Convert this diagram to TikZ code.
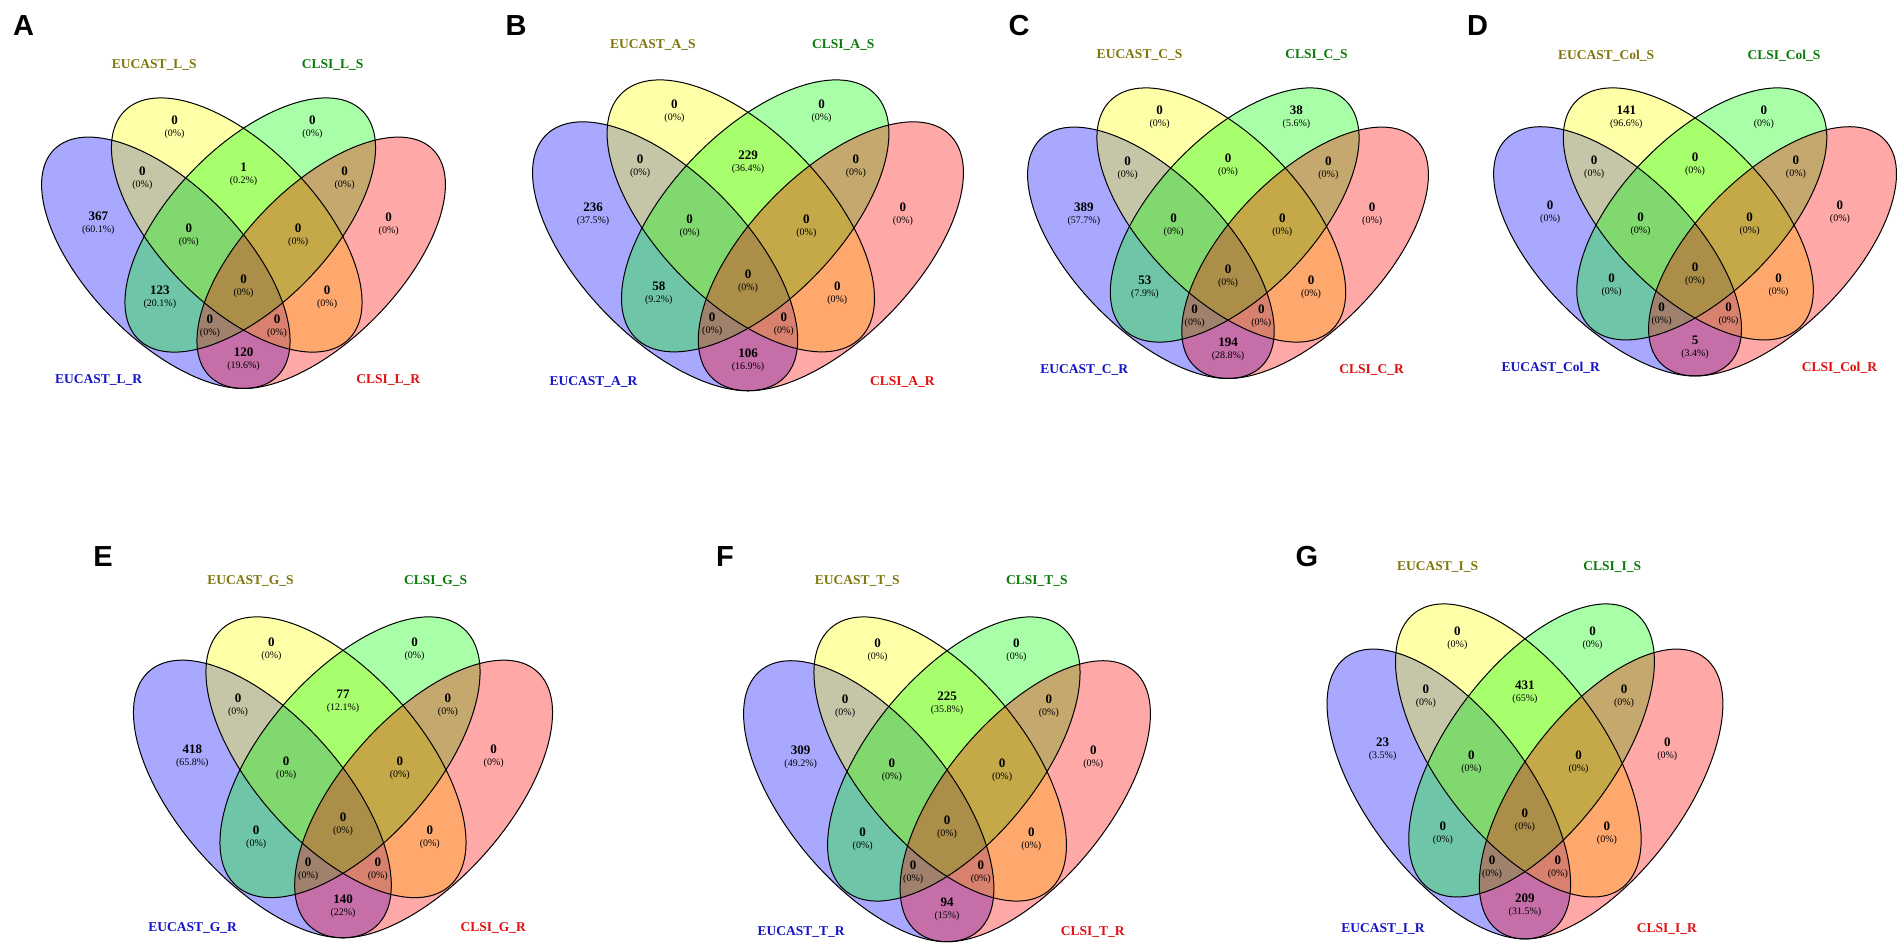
\documentclass[tikz,border=0pt]{standalone}
\usepackage{fontspec}
\setmainfont{Liberation Serif}
\newfontfamily\tagfont{Liberation Sans}

\definecolor{vB}{RGB}{0,0,255}
\definecolor{vY}{RGB}{255,255,0}
\definecolor{vG}{RGB}{0,255,0}
\definecolor{vR}{RGB}{255,0,0}
\definecolor{catES}{RGB}{128,118,10}
\definecolor{catCS}{RGB}{10,122,10}
\definecolor{catER}{RGB}{20,20,200}
\definecolor{catCR}{RGB}{225,15,15}

% region counts (regions not set here show 0 (0%))
\newcommand{\setcell}[4]{\expandafter\def\csname n@#1@#2\endcsname{#3}\expandafter\def\csname p@#1@#2\endcsname{#4}}
\newcommand{\cellnum}[2]{\ifcsname n@#1@#2\endcsname\csname n@#1@#2\endcsname\else 0\fi}
\newcommand{\cellpct}[2]{\ifcsname p@#1@#2\endcsname\csname p@#1@#2\endcsname\else 0\fi}

\setcell{A}{yg}{1}{0.2}   \setcell{A}{b}{367}{60.1} \setcell{A}{bg}{123}{20.1} \setcell{A}{br}{120}{19.6}
\setcell{B}{yg}{229}{36.4} \setcell{B}{b}{236}{37.5} \setcell{B}{bg}{58}{9.2}   \setcell{B}{br}{106}{16.9}
\setcell{C}{g}{38}{5.6}    \setcell{C}{b}{389}{57.7} \setcell{C}{bg}{53}{7.9}   \setcell{C}{br}{194}{28.8}
\setcell{D}{y}{141}{96.6}  \setcell{D}{br}{5}{3.4}
\setcell{E}{yg}{77}{12.1}  \setcell{E}{b}{418}{65.8} \setcell{E}{br}{140}{22}
\setcell{F}{yg}{225}{35.8} \setcell{F}{b}{309}{49.2} \setcell{F}{br}{94}{15}
\setcell{G}{yg}{431}{65}   \setcell{G}{b}{23}{3.5}   \setcell{G}{br}{209}{31.5}

\begin{document}
\begin{tikzpicture}[x=1pt, y=1pt,
    cell/.style={align=center, inner sep=0pt, font=\fontsize{10}{12}\selectfont},
    cat/.style={inner sep=0pt, font=\fontsize{13.5}{13.5}\selectfont\bfseries},
    tag/.style={inner sep=0pt, font=\tagfont\bfseries\fontsize{29}{29}\selectfont},
    setfill/.style={fill opacity=0.34},
    setline/.style={draw=black, line width=1pt}
]
    \fill[white] (0,-950) rectangle (1904,0);
    \useasboundingbox (0,-950) rectangle (1904,0);

    % Panel letters
    \node[tag] (tagA) at (23.5,-26) {A};
    \node[tag] (tagB) at (516,-26) {B};
    \node[tag] (tagC) at (1019,-26) {C};
    \node[tag] (tagD) at (1477.5,-26) {D};
    \node[tag] (tagE) at (103,-557) {E};
    \node[tag] (tagF) at (725,-557) {F};
    \node[tag] (tagG) at (1307,-557) {G};

    % Four-set Venn panels
    \foreach \id/\drug/\xo/\yo/\ux/\uy in {A/L/13.7/468.8/459.6/433.7, B/A/502.8/476.7/490.4/464,
        C/C/999.9/458.8/456.2/433.7, D/Col/1465.8/455.6/458.5/430, E/G/104.5/1026.5/477/479,
        F/T/715.5/1031.5/463/484.8, G/I/1299.7/1031.5/450.5/500}{
        \begin{scope}[shift={(\xo,-\yo)}, xscale=\ux, yscale=\uy]
            \foreach \cx/\cy/\ang/\ra/\rb/\col in {0.331/0.475/131.8/0.357/0.172/vB,
                0.4853/0.5621/131.6/0.359/0.177/vY, 0.5147/0.5621/48.4/0.359/0.177/vG,
                0.669/0.475/48.2/0.357/0.172/vR}
                \fill[\col, setfill, rotate around={\ang:(\cx,\cy)}] (\cx,\cy) ellipse [x radius=\ra, y radius=\rb];
            \foreach \cx/\cy/\ang/\ra/\rb in {0.331/0.475/131.8/0.357/0.172,
                0.4853/0.5621/131.6/0.359/0.177, 0.5147/0.5621/48.4/0.359/0.177,
                0.669/0.475/48.2/0.357/0.172}
                \draw[setline, rotate around={\ang:(\cx,\cy)}] (\cx,\cy) ellipse [x radius=\ra, y radius=\rb];

            % counts
            \foreach \reg/\rx/\ry in {y/0.35/0.787, g/0.65/0.787, yg/0.5/0.678, by/0.28/0.67, gr/0.72/0.67,
                b/0.184/0.565, r/0.816/0.565, byg/0.381/0.539, ygr/0.619/0.539, all/0.5/0.422,
                bg/0.318/0.396, yr/0.682/0.396, bgr/0.427/0.329, byr/0.573/0.329, br/0.5/0.252}
                \node[cell] (\id-\reg) at (\rx,\ry) {{\fontsize{13}{12}\selectfont\bfseries\cellnum{\id}{\reg}}\\(\cellpct{\id}{\reg}\%)};

            % set names
            \node[cat, text=catES] (\id-eS) at (0.306,0.93) {EUCAST\_\drug\_S};
            \node[cat, text=catCS] (\id-cS) at (0.694,0.93) {CLSI\_\drug\_S};
            \node[cat, text=catER] (\id-eR) at (0.185,0.205) {EUCAST\_\drug\_R};
            \node[cat, text=catCR] (\id-cR) at (0.815,0.205) {CLSI\_\drug\_R};
        \end{scope}
    }
\end{tikzpicture}
\end{document}
